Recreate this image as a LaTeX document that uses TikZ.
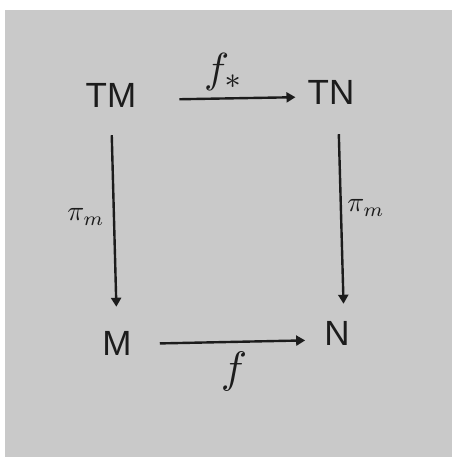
\documentclass[tikz,border=0pt]{standalone}
\usepackage{fontspec}
\setmainfont{Liberation Sans}
\usetikzlibrary{arrows.meta}
\definecolor{paper}{HTML}{C9C9C9}
\definecolor{ink}{HTML}{1C1C1C}
\tikzset{
  obj/.style={inner sep=0pt, text=ink, font=\fontsize{35}{35}\selectfont},
  lbl/.style={inner sep=0pt, text=ink},
  arr/.style={draw=ink, line width=2.4pt, -{Triangle[width=10pt,length=9pt]}},
}
\begin{document}
\begin{tikzpicture}[x=1pt,y=-1pt]
  \useasboundingbox (0,0) rectangle (454,459);
  \fill[paper] (5,10) rectangle (452,457);

  % objects
  \node[obj] (TM) at (111,95) {TM};
  \node[obj] (TN) at (331,92) {TN};
  \node[obj] (M)  at (117,343) {M};
  \node[obj] (N)  at (337,333) {N};

  % morphisms
  \draw[arr, shorten <=43pt, shorten >=12pt] ([yshift=-5pt]TM.east) -- ([yshift=-5pt]TN.west);
  \draw[arr, shorten <=28pt, shorten >=24pt] (TM.south) -- (M.north);
  \draw[arr, shorten <=30pt, shorten >=17pt] ([xshift=7pt]TN.south) -- ([xshift=7pt]N.north);
  \draw[arr, shorten <=28pt, shorten >=19pt] ([yshift=-1pt]M.east) -- ([yshift=-7pt]N.west);

  % labels
  \node[lbl] (fs) at (224,72) {\scalebox{4.2}{$f_*$}};
  \node[lbl] (pl) at (86,217) {\scalebox{2.8}{$\pi_m$}};
  \node[lbl] (pr) at (366,208) {\scalebox{2.8}{$\pi_m$}};
  \node[lbl] (fb) at (234,371) {\scalebox{4.4}{$f$}};
\end{tikzpicture}
\end{document}
